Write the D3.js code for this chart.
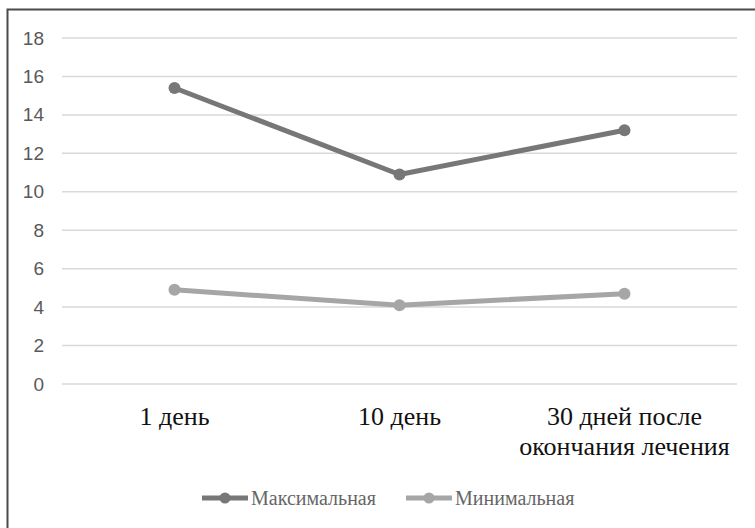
<!DOCTYPE html>
<html><head><meta charset="utf-8">
<script src="https://cdn.jsdelivr.net/npm/d3@7"></script>
<style>body{margin:0;background:#fff}</style>
</head><body>
<svg id="c" width="755" height="528"></svg>
<script>
const categories = [["1 день"], ["10 день"], ["30 дней после", "окончания лечения"]];
const catKeys = ["1 день", "10 день", "30 дней после окончания лечения"];
const maxValues = [15.4, 10.9, 13.2];
const minValues = [4.9, 4.1, 4.7];
const yTicks = [0, 2, 4, 6, 8, 10, 12, 14, 16, 18];
const seriesNames = ["Максимальная", "Минимальная"];
const seriesColors = ["#777777", "#a6a6a6"];

const svg = d3.select("#c");
svg.append("rect").attr("x", 7.5).attr("y", 9.5).attr("width", 760).attr("height", 530)
  .attr("fill", "#fff").attr("stroke", "#4a4a4a").attr("stroke-width", 2);

const x = d3.scaleBand().domain(catKeys).range([62, 737]);
const y = d3.scaleLinear().domain([0, 18]).range([384, 38]);

const grid = svg.append("g");
grid.selectAll("line").data(yTicks).join("line")
  .attr("x1", 62).attr("x2", 737).attr("y1", d => y(d)).attr("y2", d => y(d))
  .attr("stroke", "#d9d9d9").attr("stroke-width", 1.5);

const yAxis = d3.axisLeft(y).tickValues(yTicks).tickSize(0).tickPadding(0);
const ya = svg.append("g").attr("transform", "translate(44,0)").call(yAxis);
ya.select(".domain").remove();
ya.selectAll("text").attr("font-family", "Liberation Sans, Arial, sans-serif")
  .attr("font-size", 19).attr("fill", "#595959");

const xl = svg.append("g");
catKeys.forEach((k, i) => {
  const cx = x(k) + x.bandwidth() / 2;
  const t = xl.append("text").attr("x", cx).attr("y", 425)
    .attr("text-anchor", "middle").attr("font-family", "Liberation Serif, Times New Roman, serif")
    .attr("font-size", 26).attr("fill", "#111");
  categories[i].forEach((ln, j) => t.append("tspan").attr("x", cx).attr("dy", j === 0 ? 0 : 30).text(ln));
});

const line = d3.line().x((d, i) => x(catKeys[i]) + x.bandwidth() / 2).y(d => y(d));
[maxValues, minValues].forEach((vals, s) => {
  svg.append("path").datum(vals).attr("d", line).attr("fill", "none")
    .attr("stroke", seriesColors[s]).attr("stroke-width", 5).attr("stroke-linejoin", "round");
  svg.append("g").selectAll("circle").data(vals).join("circle")
    .attr("cx", (d, i) => x(catKeys[i]) + x.bandwidth() / 2).attr("cy", d => y(d))
    .attr("r", 6).attr("fill", seriesColors[s]);
});

const legendX = [202, 406];
seriesNames.forEach((n, s) => {
  const g = svg.append("g");
  g.append("line").attr("x1", legendX[s]).attr("x2", legendX[s] + 46).attr("y1", 498).attr("y2", 498)
    .attr("stroke", seriesColors[s]).attr("stroke-width", 5);
  g.append("circle").attr("cx", legendX[s] + 23).attr("cy", 498).attr("r", 5.5).attr("fill", seriesColors[s]);
  g.append("text").attr("x", legendX[s] + 49).attr("y", 505).attr("font-family", "Liberation Serif, Times New Roman, serif")
    .attr("font-size", 20).attr("fill", "#666").text(n);
});
</script>
</body></html>
